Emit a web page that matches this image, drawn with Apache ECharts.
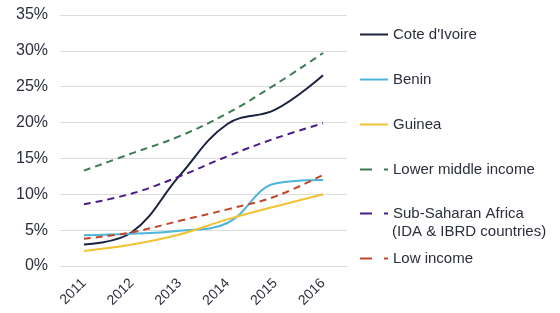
<!DOCTYPE html>
<html>
<head>
<meta charset="utf-8">
<script src="https://cdn.jsdelivr.net/npm/echarts@6/dist/echarts.min.js"></script>
<style>
  html, body { margin: 0; padding: 0; background: #fff; }
  #chart { width: 560px; height: 313px; }
</style>
</head>
<body>
<div id="chart"></div>
<script>
const years = ['2011', '2012', '2013', '2014', '2015', '2016']

const coteDivoire = [3.0, 4.7, 12.6, 19.8, 21.8, 26.6]
const benin = [4.3, 4.5, 4.9, 6.0, 11.5, 12.0]
const guinea = [2.1, 3.0, 4.4, 6.5, 8.3, 10.0]
const lowerMiddle = [13.3, 15.7, 18.1, 21.3, 25.3, 29.7]
const subSaharan = [8.6, 10.1, 12.5, 15.3, 17.8, 19.9]
const lowIncome = [3.8, 4.7, 6.3, 7.9, 9.7, 12.7]

const font = "'Liberation Sans', Arial, sans-serif"
const textColor = '#2b2f3a'

const chart = echarts.init(document.getElementById('chart'))

// one small legend per series so each row can sit where the picture has it
function legendAt(name, top, dashed) {
  const lg = {
    data: [name],
    orient: 'vertical',
    left: 359,
    top: top,
    padding: 0,
    itemWidth: 28,
    itemHeight: 14,
    selectedMode: false,
    itemStyle: { opacity: 0 },
    textStyle: { color: textColor, fontSize: 15, fontFamily: font }
  }
  if (dashed) lg.lineStyle = { type: [12, 12, 14, 60] }
  return lg
}

function line(name, data, color, dashed) {
  return {
    name: name,
    type: 'line',
    data: data,
    smooth: 0.4,
    symbol: 'none',
    lineStyle: { color: color, width: 2, type: dashed ? [7, 5] : 'solid' },
    itemStyle: { color: color }
  }
}

const SSA = 'Sub-Saharan Africa'

chart.setOption({
  animation: false,
  grid: { left: 60, right: 213, top: 15, bottom: 47 },
  title: {
    text: '(IDA & IBRD countries)',
    left: 392,
    top: 224,
    padding: 0,
    textStyle: { color: textColor, fontSize: 15, fontWeight: 'normal', fontFamily: font }
  },
  legend: [
    legendAt("Cote d'Ivoire", 27),
    legendAt('Benin', 72),
    legendAt('Guinea', 117),
    legendAt('Lower middle income', 162, true),
    legendAt(SSA, 206, true),
    legendAt('Low income', 251, true)
  ],
  xAxis: {
    type: 'category',
    data: years,
    boundaryGap: true,
    axisLine: { lineStyle: { color: '#dcdcdc' } },
    axisTick: { show: false },
    axisLabel: { rotate: 45, color: textColor, fontSize: 14, fontFamily: font, margin: 15 }
  },
  yAxis: {
    type: 'value',
    min: 0,
    max: 35,
    interval: 5,
    axisLine: { show: false },
    axisTick: { show: false },
    splitLine: { lineStyle: { color: '#dcdcdc' } },
    axisLabel: { formatter: '{value}%', color: textColor, fontSize: 16, fontFamily: font, margin: 12 }
  },
  series: [
    line("Cote d'Ivoire", coteDivoire, '#1a2240', false),
    line('Benin', benin, '#4db4da', false),
    line('Guinea', guinea, '#f1c232', false),
    line('Lower middle income', lowerMiddle, '#3b7a52', true),
    line(SSA, subSaharan, '#4a1c8a', true),
    line('Low income', lowIncome, '#c2462b', true)
  ]
})
</script>
</body>
</html>
